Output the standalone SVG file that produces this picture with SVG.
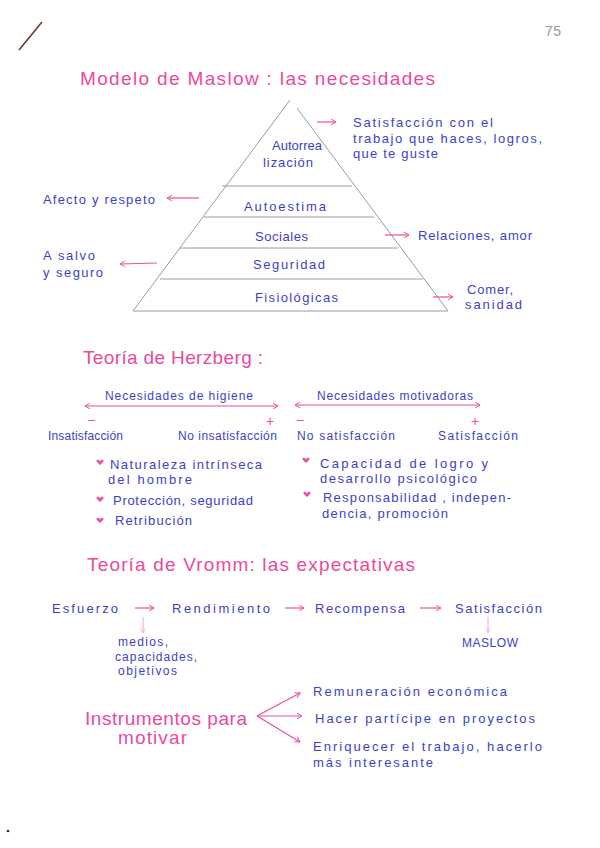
<svg xmlns="http://www.w3.org/2000/svg" width="600" height="848" viewBox="0 0 600 848">
<defs>
<style>
text{font-family:"Liberation Sans","DejaVu Sans",sans-serif;}
.t{fill:#ea4a9c;font-size:19px;}
.b{fill:#3d3fc6;font-size:13px;}
.s{fill:#3d3fc6;font-size:12px;}
.ar{stroke:#ec4e9f;stroke-width:1.2;fill:none;marker-end:url(#ah);}
.arl{stroke:#f3a4cb;stroke-width:1;fill:none;marker-end:url(#ahl);}
.dbl{stroke:#ec4e9f;stroke-width:1.2;fill:none;marker-end:url(#ah);marker-start:url(#ahs);}
.pl{stroke:#9a9aa6;stroke-width:1;fill:none;}
.heart{fill:#ec4e9f;}
.pm{fill:#ec4e9f;font-size:14px;}
</style>
<marker id="ah" viewBox="0 0 10 10" refX="9" refY="5" markerWidth="7" markerHeight="7" orient="auto" markerUnits="userSpaceOnUse"><path d="M2,1 L9,5 L2,9" fill="none" stroke="#ec4e9f" stroke-width="1.4"/></marker>
<marker id="ahs" viewBox="0 0 10 10" refX="1" refY="5" markerWidth="7" markerHeight="7" orient="auto" markerUnits="userSpaceOnUse"><path d="M8,1 L1,5 L8,9" fill="none" stroke="#ec4e9f" stroke-width="1.4"/></marker>
<marker id="ahl" viewBox="0 0 10 10" refX="9" refY="5" markerWidth="6" markerHeight="6" orient="auto" markerUnits="userSpaceOnUse"><path d="M2,1 L9,5 L2,9" fill="none" stroke="#f3a4cb" stroke-width="1.2"/></marker>
<path id="hp" d="M0,1.5 C-1,-1 -4,-0.5 -3.5,1.5 L0,5 L3.5,1.5 C4,-0.5 1,-1 0,1.5Z"/>
</defs>
<rect width="600" height="848" fill="#ffffff"/>

<g id="page-marks">
<line x1="19" y1="50" x2="42" y2="22" stroke="#6b3b2c" stroke-width="1.6"/>
<text x="545" y="36" fill="#9a9aa0" font-size="14" textLength="16" lengthAdjust="spacing">75</text>
<circle cx="8" cy="831" r="1.3" fill="#3a2020"/>
</g>

<g id="maslow-title"><text class="t" x="80" y="85" textLength="355" lengthAdjust="spacing">Modelo de Maslow : las necesidades</text></g>

<g id="pyramid">
<path class="pl" d="M290,100 L133,311 M297,108 L448,311"/>
<line class="pl" x1="222" y1="186" x2="352" y2="186"/>
<line class="pl" x1="204" y1="217" x2="374" y2="217"/>
<line class="pl" x1="180" y1="248" x2="398" y2="248"/>
<line class="pl" x1="160" y1="279" x2="423" y2="279"/>
<line class="pl" x1="133" y1="311" x2="448" y2="311"/>
</g>
<g id="level-autorrealizacion"><text class="b" x="272" y="150" textLength="50" lengthAdjust="spacing">Autorrea</text><text class="b" x="263" y="167" textLength="50" lengthAdjust="spacing">lización</text></g>
<g id="level-autoestima"><text class="b" x="244" y="211" textLength="82" lengthAdjust="spacing">Autoestima</text></g>
<g id="level-sociales"><text class="b" x="255" y="241" textLength="53" lengthAdjust="spacing">Sociales</text></g>
<g id="level-seguridad"><text class="b" x="253" y="269" textLength="72" lengthAdjust="spacing">Seguridad</text></g>
<g id="level-fisiologicas"><text class="b" x="255" y="302" textLength="83" lengthAdjust="spacing">Fisiológicas</text></g>

<g id="note-satisfaccion">
<text class="b" x="353" y="127" textLength="140" lengthAdjust="spacing">Satisfacción con el</text>
<text class="b" x="353" y="143" textLength="189" lengthAdjust="spacing">trabajo que haces, logros,</text>
<text class="b" x="353" y="158" textLength="85" lengthAdjust="spacing">que te guste</text>
</g>
<g id="note-afecto"><text class="b" x="43" y="204" textLength="112" lengthAdjust="spacing">Afecto y respeto</text></g>
<g id="note-relaciones"><text class="b" x="418" y="240" textLength="114" lengthAdjust="spacing">Relaciones, amor</text></g>
<g id="note-salvo"><text class="b" x="43" y="260" textLength="52" lengthAdjust="spacing">A salvo</text><text class="b" x="43" y="277" textLength="60" lengthAdjust="spacing">y seguro</text></g>
<g id="note-comer"><text class="b" x="467" y="294" textLength="46" lengthAdjust="spacing">Comer,</text><text class="b" x="465" y="309" textLength="57" lengthAdjust="spacing">sanidad</text></g>

<g id="herzberg-title"><text class="t" x="83" y="364" textLength="180" lengthAdjust="spacing">Teoría de Herzberg :</text></g>
<g id="herzberg-higiene">
<text class="s" x="105" y="400" textLength="148" lengthAdjust="spacing">Necesidades de higiene</text>
<text class="pm" x="87" y="425">−</text>
<text class="pm" x="266" y="426">+</text>
<text class="s" x="48" y="440" textLength="75" lengthAdjust="spacing">Insatisfacción</text>
<text class="s" x="178" y="440" textLength="99" lengthAdjust="spacing">No insatisfacción</text>
</g>
<g id="herzberg-motivadoras">
<text class="s" x="317" y="400" textLength="156" lengthAdjust="spacing">Necesidades motivadoras</text>
<text class="pm" x="296" y="425">−</text>
<text class="pm" x="471" y="426">+</text>
<text class="s" x="297" y="440" textLength="98" lengthAdjust="spacing">No satisfacción</text>
<text class="s" x="438" y="440" textLength="80" lengthAdjust="spacing">Satisfacción</text>
</g>
<g id="herzberg-list-left">
<use href="#hp" class="heart" x="100" y="460"/>
<text class="b" x="110" y="469" textLength="152" lengthAdjust="spacing">Naturaleza intrínseca</text>
<text class="b" x="108" y="484" textLength="84" lengthAdjust="spacing">del hombre</text>
<use href="#hp" class="heart" x="100" y="497"/>
<text class="b" x="113" y="505" textLength="140" lengthAdjust="spacing">Protección, seguridad</text>
<use href="#hp" class="heart" x="100" y="518"/>
<text class="b" x="115" y="525" textLength="77" lengthAdjust="spacing">Retribución</text>
</g>
<g id="herzberg-list-right">
<use href="#hp" class="heart" x="306" y="458"/>
<text class="b" x="320" y="468" textLength="168" lengthAdjust="spacing">Capacidad de logro  y</text>
<text class="b" x="320" y="483" textLength="157" lengthAdjust="spacing">desarrollo psicológico</text>
<use href="#hp" class="heart" x="307" y="492"/>
<text class="b" x="323" y="502" textLength="188" lengthAdjust="spacing">Responsabilidad , indepen-</text>
<text class="b" x="322" y="518" textLength="126" lengthAdjust="spacing">dencia, promoción</text>
</g>

<g id="vroom-title"><text class="t" x="87" y="571" textLength="328" lengthAdjust="spacing">Teoría de Vromm: las expectativas</text></g>
<g id="vroom-esfuerzo"><text class="b" x="52" y="613" font-size="14" textLength="66" lengthAdjust="spacing">Esfuerzo</text></g>
<g id="vroom-rendimiento"><text class="b" x="172" y="613" font-size="14" textLength="98" lengthAdjust="spacing">Rendimiento</text></g>
<g id="vroom-recompensa"><text class="b" x="315" y="613" font-size="14" textLength="90" lengthAdjust="spacing">Recompensa</text></g>
<g id="vroom-satisfaccion"><text class="b" x="455" y="613" font-size="14" textLength="87" lengthAdjust="spacing">Satisfacción</text></g>
<g id="vroom-medios">
<text class="s" x="118" y="646" textLength="50" lengthAdjust="spacing">medios,</text>
<text class="s" x="115" y="661" textLength="82" lengthAdjust="spacing">capacidades,</text>
<text class="s" x="118" y="675" textLength="59" lengthAdjust="spacing">objetivos</text>
</g>
<g id="vroom-maslow"><text class="s" x="462" y="647" font-size="11" textLength="56" lengthAdjust="spacing">MASLOW</text></g>

<g id="instrumentos"><text class="t" x="85" y="725" font-size="18" textLength="162" lengthAdjust="spacing">Instrumentos para</text><text class="t" x="118" y="744" font-size="18" textLength="69" lengthAdjust="spacing">motivar</text></g>
<g id="instr-remuneracion"><text class="b" x="313" y="696" textLength="194" lengthAdjust="spacing">Remuneración económica</text></g>
<g id="instr-participe"><text class="b" x="315" y="723" textLength="220" lengthAdjust="spacing">Hacer partícipe en proyectos</text></g>
<g id="instr-enriquecer"><text class="b" x="313" y="751" textLength="229" lengthAdjust="spacing">Enriquecer el trabajo, hacerlo</text><text class="b" x="313" y="767" textLength="120" lengthAdjust="spacing">más interesante</text></g>

<g id="connectors">
<line class="ar" x1="317" y1="122" x2="336" y2="122"/>
<line class="ar" x1="199" y1="198" x2="167" y2="198"/>
<line class="ar" x1="385" y1="235" x2="409" y2="235"/>
<line class="ar" x1="157" y1="263" x2="120" y2="264"/>
<line class="ar" x1="433" y1="297" x2="453" y2="297"/>
<line class="dbl" x1="85" y1="406" x2="278" y2="406"/>
<line class="dbl" x1="295" y1="405" x2="480" y2="405"/>
<line class="ar" x1="135" y1="608" x2="154" y2="608"/>
<line class="ar" x1="285" y1="608" x2="304" y2="608"/>
<line class="ar" x1="420" y1="608" x2="441" y2="608"/>
<line class="arl" x1="143" y1="617" x2="143" y2="633"/>
<line class="arl" x1="488" y1="617" x2="488" y2="633"/>
<line class="ar" x1="257" y1="716" x2="300" y2="693"/>
<line class="ar" x1="257" y1="716" x2="302" y2="716"/>
<line class="ar" x1="257" y1="716" x2="300" y2="742"/>
</g>
</svg>
